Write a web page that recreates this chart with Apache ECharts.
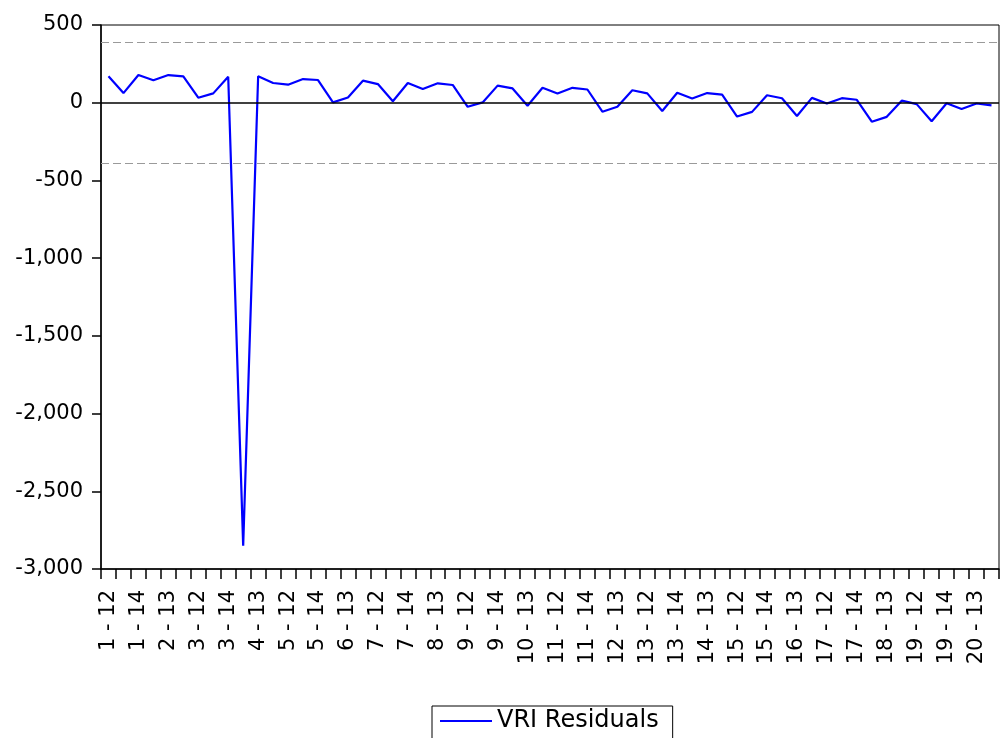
<!DOCTYPE html>
<html>
<head>
<meta charset="utf-8">
<script src="https://cdn.jsdelivr.net/npm/echarts@6/dist/echarts.min.js"></script>
<style>
  html, body { margin: 0; padding: 0; background: #fff; }
  #chart { width: 1000px; height: 738px; }
</style>
</head>
<body>
<div id="chart"></div>
<script>
// Observation labels: period - group
const categories = [
  '1 - 12','1 - 13','1 - 14','2 - 12','2 - 13','2 - 14','3 - 12','3 - 13','3 - 14','4 - 12',
  '4 - 13','4 - 14','5 - 12','5 - 13','5 - 14','6 - 12','6 - 13','6 - 14','7 - 12','7 - 13',
  '7 - 14','8 - 12','8 - 13','8 - 14','9 - 12','9 - 13','9 - 14','10 - 12','10 - 13','10 - 14',
  '11 - 12','11 - 13','11 - 14','12 - 12','12 - 13','12 - 14','13 - 12','13 - 13','13 - 14','14 - 12',
  '14 - 13','14 - 14','15 - 12','15 - 13','15 - 14','16 - 12','16 - 13','16 - 14','17 - 12','17 - 13',
  '17 - 14','18 - 12','18 - 13','18 - 14','19 - 12','19 - 13','19 - 14','20 - 12','20 - 13','20 - 14'
];

// VRI residuals
const residuals = [
  170, 62, 178, 144, 178, 170, 32, 60, 167, -2850,
  170, 127, 116, 152, 146, 2, 34, 142, 120, 9,
  127, 88, 125, 114, -26, 2, 110, 92, -20, 96,
  59, 96, 85, -58, -26, 80, 60, -53, 64, 27,
  62, 52, -89, -59, 48, 29, -85, 31, -5, 29,
  19, -122, -91, 13, -9, -119, -3, -40, -5, -17
];

// Reference bands
const bandUpper = 390;
const bandLower = -390;

// Y axis range
const yMin = -3000;
const yMax = 500;
const yStep = 500;

const font = '"DejaVu Sans", "Liberation Sans", Arial, sans-serif';

function withCommas(v) {
  const s = Math.abs(v).toString().replace(/\B(?=(\d{3})+(?!\d))/g, ',');
  return (v < 0 ? '-' : '') + s;
}

const chart = echarts.init(document.getElementById('chart'), null, { renderer: 'canvas' });

chart.setOption({
  animation: false,
  backgroundColor: '#fff',
  textStyle: { fontFamily: font },
  grid: {
    left: 101, right: 1, top: 25, bottom: 169,
    outerBoundsMode: 'none',
    show: true,
    borderColor: '#000',
    borderWidth: 1
  },
  legend: {
    top: 706,
    left: 432,
    data: [{ name: 'VRI Residuals', icon: 'rect' }],
    borderColor: '#000',
    borderWidth: 1,
    padding: [3, 14, 10, 8],
    itemWidth: 52,
    itemHeight: 2,
    itemGap: 6,
    textStyle: { fontFamily: font, fontSize: 24, color: '#000' }
  },
  xAxis: {
    type: 'category',
    data: categories,
    boundaryGap: true,
    axisLine: { onZero: false, lineStyle: { color: '#000', width: 1.5 } },
    axisTick: { show: true, interval: 0, length: 10, lineStyle: { color: '#000', width: 1.5 } },
    axisLabel: {
      interval: 1,
      rotate: 90,
      margin: 21,
      fontFamily: font,
      fontSize: 21,
      color: '#000'
    },
    splitLine: { show: false }
  },
  yAxis: {
    type: 'value',
    min: yMin,
    max: yMax,
    interval: yStep,
    axisLine: { show: true, lineStyle: { color: '#000', width: 1.5 } },
    axisTick: { show: true, length: 9, lineStyle: { color: '#000', width: 1.5 } },
    axisLabel: {
      margin: 18,
      fontFamily: font,
      fontSize: 21,
      color: '#000',
      formatter: withCommas
    },
    splitLine: { show: false }
  },
  series: [{
    name: 'VRI Residuals',
    type: 'line',
    data: residuals,
    symbol: 'none',
    lineStyle: { color: '#0000ff', width: 2.2 },
    itemStyle: { color: '#0000ff' },
    markLine: {
      silent: true,
      symbol: 'none',
      label: { show: false },
      data: [
        { yAxis: 0, lineStyle: { color: '#000', width: 1.5, type: 'solid' } },
        { yAxis: bandUpper, lineStyle: { color: '#9a9a9a', width: 1, type: [8, 4] } },
        { yAxis: bandLower, lineStyle: { color: '#9a9a9a', width: 1, type: [8, 4] } }
      ]
    },
    z: 3
  }]
});
</script>
</body>
</html>
